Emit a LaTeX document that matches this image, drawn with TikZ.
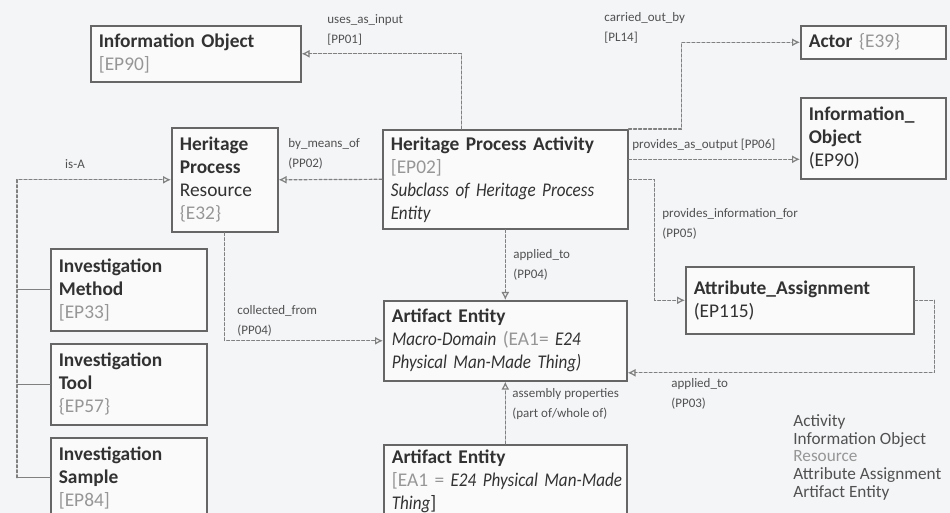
\documentclass[tikz,border=0pt]{standalone}
\usepackage{fontspec}
\setmainfont{Carlito}[ItalicFeatures={FakeStretch=0.88},BoldItalicFeatures={FakeStretch=0.88}]
\usetikzlibrary{arrows.meta}
\definecolor{paper}{RGB}{244,245,247}
\definecolor{ink}{RGB}{50,50,50}
\definecolor{codegray}{RGB}{150,150,150}
\newcommand{\codetxt}[1]{\textcolor{codegray}{#1}}

\begin{document}
\begin{tikzpicture}[x=0.5pt,y=-0.5pt,>={Latex[open,length=4pt,width=4pt]},line cap=round,
  box/.style={draw=black!60,line width=0.8pt,fill=white!50!paper,anchor=north west,align=left,
    inner xsep=4pt,inner ysep=0pt,text=ink,font=\fontsize{9.7}{11.5}\selectfont},
  link/.style={->,gray,line width=0.6pt,dash pattern=on 1.5pt off 1pt},
  branch/.style={gray,line width=0.6pt},
  lbl/.style={anchor=north west,align=left,inner sep=0pt,text=ink!85,font=\fontsize{6.5}{10}\selectfont}]
\useasboundingbox (0,0) rectangle (950,513);
\clip (0,0) rectangle (950,513);
\fill[paper] (0,0) rectangle (950,513);

\node[box,text width=97pt,minimum height=28pt] (infoin) at (90,25) {\textbf{Information Object}\\\codetxt{[EP90]}};
\node[box,text width=64.5pt,minimum height=16.5pt] (actor) at (800,25) {\textbf{Actor} \codetxt{\{E39\}}};
\node[box,text width=64.5pt,minimum height=40.5pt] (infoout) at (800,97) {\textbf{Information\_}\\\textbf{Object}\\(EP90)};
\node[box,text width=45pt,minimum height=52pt] (resource) at (171,127) {\textbf{Heritage}\\\textbf{Process}\\Resource\\\codetxt{\{E32\}}};
\node[box,text width=114.5pt,minimum height=49.5pt] (activity) at (382,129) {\textbf{Heritage Process Activity}\\\codetxt{[EP02]}\\\textit{Subclass of Heritage Process}\\\textit{Entity}};
\node[box,text width=113.5pt,minimum height=40pt] (artifact) at (383,300) {\textbf{Artifact Entity}\\\textit{Macro-Domain} \codetxt{(EA1=} \textit{E24}\\\textit{Physical Man-Made Thing)}};
\node[box,text width=113.5pt,minimum height=36.5pt] (part) at (383,444) {\textbf{Artifact Entity}\\\mbox{\codetxt{[EA1 =} \textit{E24 Physical Man-Made}}\\\textit{Thing}]};
\node[box,text width=106pt,minimum height=33.5pt] (assign) at (685,266) {\textbf{Attribute\_Assignment}\\(EP115)};
\node[box,text width=70pt,minimum height=41pt] (method) at (50,248) {\textbf{Investigation}\\\textbf{Method}\\\codetxt{[EP33]}};
\node[box,text width=70pt,minimum height=40.5pt] (tool) at (50,343) {\textbf{Investigation}\\\textbf{Tool}\\\codetxt{\{EP57\}}};
\node[box,text width=70pt,minimum height=40pt] (sample) at (50,437) {\textbf{Investigation}\\\textbf{Sample}\\\codetxt{[EP84]}};

\draw[link] ([xshift=-22pt]activity.north) |- (infoin.east);
\node[lbl] (usesl) at (327,14) {uses\_as\_input\\{[PP01]}};
\draw[link] (activity.north east) -- ++(26.5pt,0) |- (actor.west);
\node[lbl] (carriedl) at (604,12) {carried\_out\_by\\{[PL14]}};
\draw[link] ([yshift=10pt]activity.east) -- ([yshift=10pt]activity.east -| infoout.west);
\node[lbl,anchor=west] (outputl) at (632,145) {provides\_as\_output [PP06]};
\draw[link] (activity.east) -- ++(13pt,0) |- (assign.west);
\node[lbl] (infol) at (662,208) {provides\_information\_for\\(PP05)};
\draw[link] (activity.west) -- (resource.east);
\node[lbl] (meansl) at (288,138) {by\_means\_of\\(PP02)};
\draw[link] (activity.south) -- (artifact.north);
\node[lbl] (appliedl) at (513,249) {applied\_to\\(PP04)};
\draw[link] (resource.south) |- (artifact.west);
\node[lbl] (collectedl) at (237,305) {collected\_from\\(PP04)};
\draw[link] (assign.east) -- ++(10pt,0) |- ([yshift=-16pt]artifact.east);
\node[lbl] (applied2l) at (671,378) {applied\_to\\(PP03)};
\draw[link] (part.north) -- (artifact.south);
\node[lbl] (assemblyl) at (512,388) {assembly properties\\(part of/whole of)};

\draw[branch] (method.west) -- ++(-16.5pt,0);
\draw[branch] (tool.west) -- ++(-16.5pt,0);
\draw[branch] (sample.west) -- ++(-16.5pt,0) coordinate (isa);
\draw[link] (isa) |- (resource.west);
\node[lbl,anchor=center] (isal) at (75,164) {is-A};

\node[anchor=north west,align=left,inner sep=0pt,text=ink!85,font=\fontsize{8.6}{8.9}\selectfont] (legend) at (793,414)
  {Activity\\Information Object\\\codetxt{Resource}\\Attribute Assignment\\Artifact Entity};
\end{tikzpicture}
\end{document}
